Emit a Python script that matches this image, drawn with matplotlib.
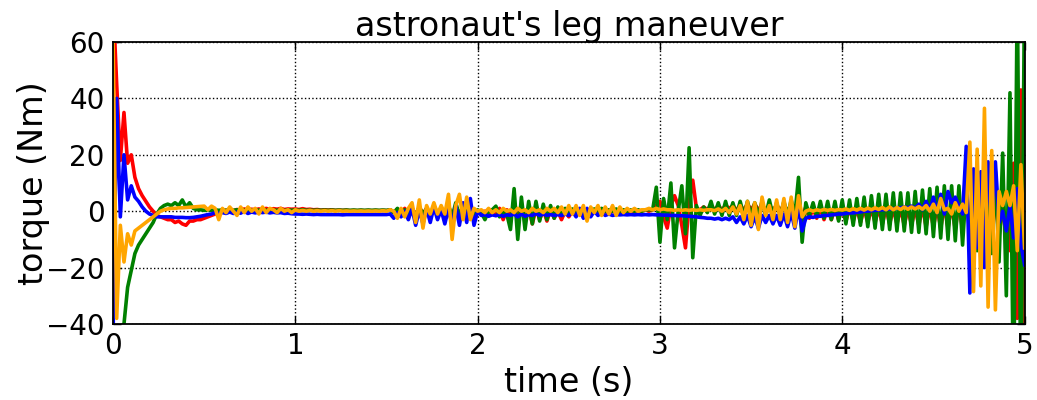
import numpy as np
import matplotlib
matplotlib.use("Agg")
import matplotlib.pyplot as plt

# time grid: 0.00 .. 5.00 s, step 0.02 s (251 samples)
time_s = np.round(np.arange(0, 251) * 0.02, 2)

red = [
    75, 45, 18, 35, 17, 20, 12, 8, 5.5, 3.5,
    1.5, 0, -1.5, -2, -2.5, -3, -3, -4, -3.5, -4.5,
    -5, -3.5, -3.5, -3, -3, -2.5, -2, -1.5, -1, -0.5,
    0, 0.3, 0.5, 0.2, 0.6, 0.3, 0.8, 0.4, 0.7, 0.5,
    0.8, 0.5, 1.0, 0.6, 0.9, 0.7, 1.0, 0.6, 0.8, 0.7,
    0.8, 0.6, 0.9, 0.6, 0.7, 0.5, 0.6, 0.4, 0.5, 0.4,
    0.5, 0.3, 0.4, 0.3, 0.4, 0.2, 0.3, 0.2, 0.3, 0.2,
    0.3, 0.2, 0.3, 0.2, 0.3, 0.2, 0.5, -0.5, 0.8, -0.8,
    1, -1, 1.2, -1.5, 1.5, -1, 1, -1.5, 1.5, -1,
    1.2, -1.5, 2, -2, 1.5, -1.5, 1, -1, 0.5, -0.5,
    0, -0.5, 0, -1, 0.5, -1.5, 1, -3, 0.5, -2,
    2.5, -3, 1.5, -3.5, 1, -4.5, 1, -3, 0.5, -3.5,
    0.5, -2.5, 0, -3, 0, -2, 0, -1.5, 0, -1,
    0, -0.5, 0, -0.5, 0.2, -0.3, 0.2, -0.2, 0.2, 0,
    0.2, 0, 0.2, 0, 0.3, 0, 0.5, 0, 0.5, 2,
    3.5, -2, -6, 2, 5.5, 2, -5, -13, 3, 11,
    1, 0.5, 1.5, 0.5, 2, 0.5, 2, 0.5, 2, 1,
    2, 0.5, 2, 0.5, 2.5, 0.5, 2.5, 0.5, 2, 0.5,
    2, 0.5, 2, 0.5, 2, 0, 2.5, -1, 2, -2,
    1.5, -2.5, 1, -2.5, 1, -3, 1, -3, 1, -3,
    1, -3.5, 1, -3.5, 1, -4, 1, -4, 1, -4,
    1, -4.5, 1, -4.5, 1, -4.5, 1, -5, 1, -5,
    1, -5, 1.5, -5.5, 1.5, -5.5, 1.5, -6, 2, -6,
    2, -6.5, 3, -7, 10, -8, 8, -10, 6, -8,
    5, -6, 4, -9, 3, -11, -14, 17, -38, 43,
    -45,
]

blue = [
    -45, 40, -2, 20, 4, 9, 5, 3.5, 1.5, 0,
    -1, -1.5, -2, -2, -2, -2, -2, -2.2, -2.2, -2.2,
    -2.3, -2.3, -2.2, -2, -1.8, -1.5, -1.2, -1, -0.5, -0.8,
    -0.5, -0.8, -0.3, -0.8, -0.3, -0.7, 0, -0.8, -0.3, -0.6,
    -0.3, -0.5, -0.3, -0.6, -0.4, -0.6, -0.5, -0.8, -0.7, -0.9,
    -1, -1, -1.1, -1, -1.1, -1.2, -1.1, -1.2, -1.2, -1.2,
    -1.2, -1.2, -1.2, -1.3, -1.2, -1.2, -1.2, -1.2, -1.2, -1.2,
    -1.2, -1.2, -1.2, -1.2, -1.2, -1.2, -1, -2.5, -0.5, -2,
    0, -3, 1, -5, 0.5, -4.5, 1, -4, 1.5, -3,
    0.5, -4.5, 1, -5, 2, -5, 3, -4, 4.5, -5,
    0, -1.5, -1.2, -1.8, -1.3, -1.6, -1.2, -1.8, -1.3, -1.5,
    -1, -2, -1, -1.8, -1.2, -1.5, -0.8, -1.5, -1, -1.5,
    -1.2, -1.5, -1.2, -1.5, -1, -1.5, 0, -2, 1, -2.5,
    1, -2, 0, -1.5, -0.5, -1.5, -1, -1.5, -1.2, -1.3,
    -1.2, -1.3, -1.2, -1.3, -1.2, -1.3, -1.2, -1.3, -1.2, -1.3,
    -1.3, -1.4, -1.4, -1.5, -1.5, -1.6, -1.6, -1.7, -1.8, -1.9,
    -2, -2.2, -2.3, -2.5, -2.5, -2.8, -2.5, -3, -2.5, -3,
    -2, -4, -2, -4.5, -1.5, -5.5, -2, -6, -1.5, -4,
    -1.5, -4.5, -1.5, -5, -1, -5.5, -0.5, -6, 1.5, -7,
    -2.5, -2, -2.2, -1.8, -1.8, -1.5, -1.5, -1.3, -1.2, -1,
    -1, -0.8, -0.6, -0.6, -0.4, -0.3, 0, 0, 0.2, 0.3,
    0.4, 0.5, 0.6, 0.8, 0.9, 1, 1.2, 1.5, 1.2, 1.8,
    1, 2.5, 0.5, 3.5, 0, 5, -0.5, 6, -1, 7,
    3, 5, 2, -1, 23, -29, 15, -13, 14, -20,
    17.5, -5, 17.5, -4, 0, -7, 2, -9.5, 8, -12,
    -19,
]

green = [
    -45, -42, -41, -40, -27, -21, -15, -12, -10, -8,
    -6, -4, -1, 1, 2, 2.5, 2, 3, 2, 4,
    1.5, 3, 1, 0.5, 0.5, 0.3, 0.5, 0.3, 0.5, 0.3,
    0.5, 0.3, 0.5, 0.3, 0.5, 0.2, 0.4, 0.2, 0.4, 0.3,
    0.4, 0.2, 0.4, 0.3, 0.4, 0.3, 0.5, 0.2, 0.5, 0.3,
    0.5, 0.3, 0.5, 0.3, 0.4, 0.3, 0.4, 0.3, 0.4, 0.3,
    0.4, 0.3, 0.4, 0.3, 0.4, 0.3, 0.4, 0.3, 0.4, 0.3,
    0.4, 0.3, 0.4, 0.3, 0.4, 0.3, 0.5, -0.5, 1, -1,
    0.5, -1, 1, -1.5, 1.5, -1, 1, -1.5, 2, -1,
    1, -1.5, 2, -2, 3, -1.5, 2, -1, 2, -2,
    0.5, -0.5, -3, 0, 0.5, 1.8, -2, 0, -1, -6.5,
    8, -10, 5, -6.5, 3.5, -4.5, 3.5, -3.5, 2.5, -3,
    2, -2.5, 1.5, -1.5, 1, -1, 0.8, -0.8, 0.5, -0.5,
    0.5, 0, 0.8, 0, 1, 0, 0.5, 0, 0.8, 0,
    0.5, 0, 0.5, 0, 0.5, 0, 0.5, 0.5, 0.5, 8.5,
    -11, 4.5, -3, 10, -13, 0, 9, -8, 22.5, -16.5,
    2, -1.5, 1.5, -0.5, 3.5, -1, 3, -1.5, 3.5, -1.5,
    3, -1.5, 3.5, -1.5, 3.5, -1.5, 3, -1.5, 3.5, -1.5,
    4, -1.5, 3, -1.5, 3.5, -1.5, 4, -1.5, 12, -11,
    3, -1.5, 3, -2, 3.5, -2.5, 3.5, -3, 3.5, -3.5,
    4, -4.5, 4, -5, 4.5, -5, 5, -5.5, 5.5, -6,
    6, -6.5, 6, -6.5, 6.5, -7, 6.5, -7, 6.5, -7.5,
    7, -7.5, 7.5, -8, 8, -9, 8.5, -9.5, 9, -10,
    9, -10.5, 9, -12, 9, -10, 12, -14, 10, -12,
    12, -15, 14, -18, 20.6, -30, 42, -70, 80, -70,
    80,
]

orange = [
    62, -38, -5, -18, -8, -12, -7, -6, -5, -4,
    -3, -2, -1, 0, 0.5, 0.8, 1, 1, 1.2, 1.2,
    1.3, 1.4, 1.5, 1.6, 1.7, 1.8, 0.5, 1.8, 1, -3,
    1, -0.5, 1.5, 0, -1.5, 1.5, -0.5, 1.5, 0, 1,
    -1, 1.5, -0.5, 1, 0.5, -0.5, 1, 0, 0.5, -0.5,
    0.5, 0, 0.3, 0, 0.3, 0, 0.2, 0, 0.2, 0,
    0.2, 0, 0.2, 0, 0.1, 0, 0.1, 0, 0.1, 0,
    0.1, 0, 0.1, 0, 0.2, 0, 0.5, 0, -2.5, 1,
    -2, 1, 3, -4, 4, -6, 2, -1, 3, -1,
    2, -1, 6, -10, 2, 6, -3, 5, -3, 1,
    0, 0.5, -0.5, 1, -0.5, 0.5, -0.5, 1, 0, 0.5,
    -0.5, 1, 0, 0.5, -0.5, 1, 0, 0.5, -0.5, 1,
    0, 1, -0.5, 1.5, -1, 2, -1, 2, -1.5, 2,
    -3.5, 1.5, -0.5, 2, -1.5, 1.5, -1, 2, -1.5, 1.5,
    -0.5, 1, 0, 1, 0, 0.5, 0.5, 1, 0.5, 1,
    0.5, 0.8, 0.5, 0.5, 0.3, 0.5, 0.3, 0.5, 0.3, 0.5,
    0.3, 0.5, 0.3, 0.5, 0.5, 0.2, 0.8, 0, 1, -0.5,
    1.5, -1, 2, -3, 3.5, -5, 3, -6.5, 5, -1.5,
    2, -3, 4, -3, 4.5, -4, 5, -5.5, 5.5, -2,
    0, 0.5, 0, 0.5, 0.2, 0.6, 0.3, 0.6, 0.3, 0.6,
    0.4, 0.8, 0.3, 0.9, 0.4, 1, 0.4, 1.1, 0.5, 1.2,
    0.6, 1.3, 0.5, 1.5, 0.5, 1.3, 0.6, 1.5, 0.7, 1.5,
    0.8, 1.6, 0.7, 2, 0, 2.5, -0.5, 4.5, 0.5, 1,
    -1, 3, 0, 2.5, -0.5, 24.5, -28.5, 22, -26.5, 36.5,
    -34, 21.5, -35, 7, 2, 7, 2, 9, -14, 16.5,
    -13,
]

series = [(red, "#ff0000"), (green, "#008000"), (blue, "#0000ff"), (orange, "#ffa500")]

plt.rcParams["font.family"] = "DejaVu Sans"
fig = plt.figure(figsize=(10.37, 4.0), dpi=100)
ax = fig.add_axes([0.109, 0.19, 0.879, 0.705])

for vals, col in series:
    ax.plot(time_s, vals, color=col, linewidth=2.6, solid_joinstyle="round")

ax.set_xlim(0, 5)
ax.set_ylim(-40, 60)
ax.set_xticks([0, 1, 2, 3, 4, 5])
ax.set_yticks([-40, -20, 0, 20, 40, 60])
ax.grid(True, color="black", linestyle=":", linewidth=1)
ax.tick_params(direction="in", top=True, right=True, length=6, width=1,
               labelsize=20, pad=6)
for sp in ax.spines.values():
    sp.set_linewidth(1.3)

ax.set_title("astronaut's leg maneuver", fontsize=24, pad=4)
ax.set_xlabel("time (s)", fontsize=24, labelpad=4)
ax.set_ylabel("torque (Nm)", fontsize=24, labelpad=-3)

fig.savefig("out.png", dpi=100)
